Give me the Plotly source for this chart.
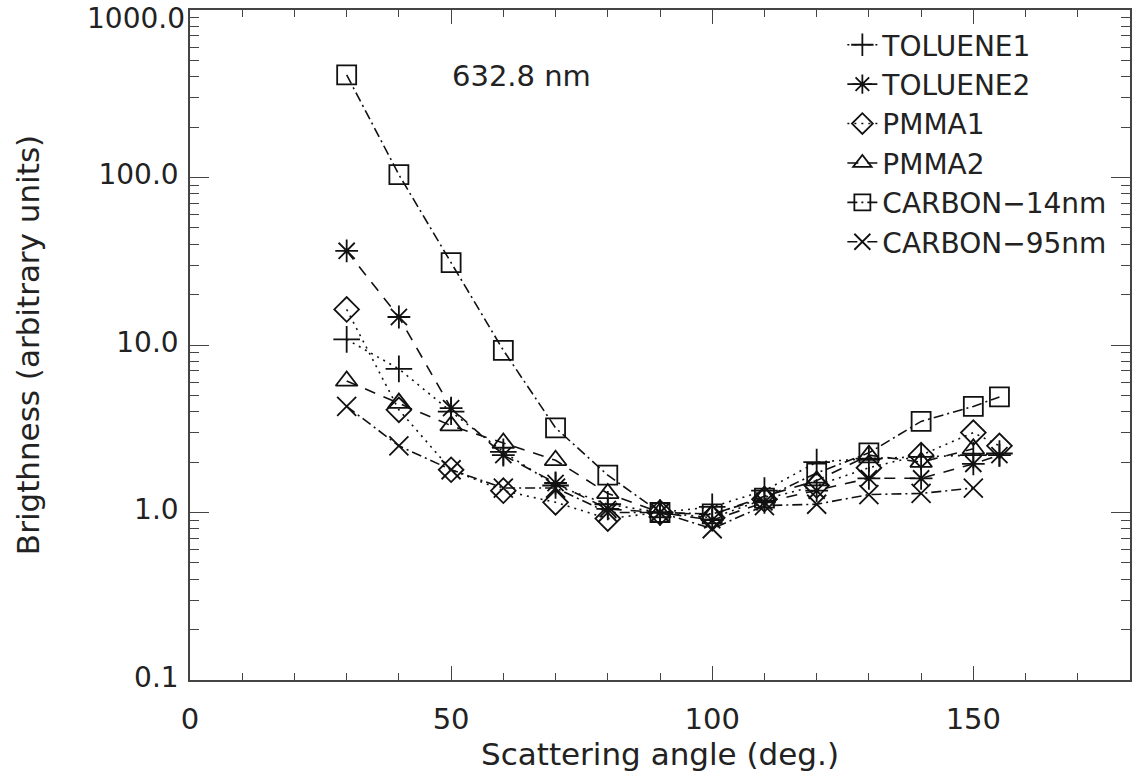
import plotly.graph_objects as go

angles = [30, 40, 50, 60, 70, 80, 90, 100, 110, 120, 130, 140, 150, 155]

toluene1 = [10.8, 7.2, 4.0, 2.3, 1.45, 1.12, 1.0, 1.08, 1.35, 2.0, 2.1, 2.15, 2.2, 2.25]
toluene2 = [36.5, 14.7, 4.2, 2.2, 1.5, 1.05, 1.0, 0.9, 1.15, 1.35, 1.6, 1.6, 1.95, 2.2]
pmma1 = [16.3, 4.1, 1.8, 1.35, 1.15, 0.92, 1.0, 0.93, 1.2, 1.45, 1.85, 2.2, 3.0, 2.5]
pmma2_angles = [30, 40, 50, 60, 70, 80, 90, 100, 110, 120, 130, 140, 150]
pmma2 = [6.1, 4.5, 3.3, 2.6, 2.05, 1.3, 1.0, 0.97, 1.25, 1.55, 2.2, 2.0, 2.4]
carbon14 = [410, 104, 31, 9.3, 3.2, 1.67, 1.0, 0.98, 1.22, 1.72, 2.27, 3.5, 4.3, 4.9]
carbon95_angles = [30, 40, 50, 60, 70, 80, 90, 100, 110, 120, 130, 140, 150]
carbon95 = [4.3, 2.5, 1.8, 1.4, 1.4, 1.0, 1.0, 0.8, 1.1, 1.12, 1.28, 1.3, 1.4]

y_tickvals = [0.1, 1, 10, 100, 1000]
y_ticktext = ["0.1", "1.0", "10.0", "100.0", ""]
y_top_tickvals = [1000]
y_top_ticktext = ["1000.0"]
x_tickvals = [0, 50, 100, 150]

DOT = "2px,5px"
DASH = "11px,9px"
DASHDOT = "10px,4px,2px,4px"

series = [
    ("TOLUENE1", angles, toluene1, DOT, "cross-thin-open"),
    ("TOLUENE2", angles, toluene2, DASH, "asterisk-open"),
    ("PMMA1", angles, pmma1, DOT, "diamond-open"),
    ("PMMA2", pmma2_angles, pmma2, DASH, "triangle-up-open"),
    ("CARBON\u221214nm", angles, carbon14, DASHDOT, "square-open"),
    ("CARBON\u221295nm", carbon95_angles, carbon95, DASHDOT, "x-thin-open"),
]

fig = go.Figure()
for name, xs, ys, dash, sym in series:
    fig.add_trace(go.Scatter(
        x=xs, y=ys, name=name, mode="lines+markers",
        line=dict(color="#111", width=1.6, dash=dash),
        marker=dict(symbol=sym, size=19, color="#111",
                    line=dict(color="#111", width=1.8)),
    ))

# invisible helper trace so the overlay axis (top "1000.0" label) is drawn
fig.add_trace(go.Scatter(
    x=angles, y=carbon14, yaxis="y2", mode="lines",
    line=dict(width=0, color="rgba(0,0,0,0)"), opacity=0,
    showlegend=False, hoverinfo="skip",
))

FONT = "DejaVu Sans"
TXT = "#222"
YRANGE = [-1, 3.0001]

fig.update_layout(
    width=1140, height=776,
    margin=dict(l=190, r=10, t=10, b=96, autoexpand=False),
    plot_bgcolor="white", paper_bgcolor="white",
    font=dict(family=FONT, size=28, color=TXT),
    showlegend=True,
    legend=dict(
        x=0.694, y=0.985, xanchor="left", yanchor="top",
        bgcolor="rgba(0,0,0,0)", borderwidth=0,
        font=dict(family=FONT, size=28, color=TXT),
        tracegroupgap=0, itemwidth=30,
    ),
    annotations=[dict(
        text="632.8 nm", xref="paper", yref="paper",
        x=0.353, y=0.901, xanchor="center", yanchor="middle",
        showarrow=False, font=dict(family=FONT, size=29, color=TXT),
    )],
    yaxis2=dict(
        type="log", range=YRANGE, overlaying="y", side="left",
        tickvals=y_top_tickvals, ticktext=y_top_ticktext,
        ticks="", showline=False, showgrid=False, zeroline=False,
        tickfont=dict(size=28, family=FONT, color=TXT),
        ticklabelstandoff=4, ticklabelshift=8, ticklabeloverflow="allow",
        automargin=False,
    ),
)

fig.update_xaxes(
    range=[0, 180], tickvals=x_tickvals, ticks="inside", ticklen=14,
    tickwidth=1.2, tickcolor="#444", showline=True, linecolor="#444",
    linewidth=1.5, mirror="ticks", showgrid=False, zeroline=False,
    tickfont=dict(size=29), ticklabelstandoff=12, automargin=False,
    minor=dict(ticks="inside", ticklen=7, dtick=10, tick0=0, tickcolor="#444", showgrid=False),
    title=dict(text="Scattering angle (deg.)", font=dict(size=31), standoff=6),
)
fig.update_layout(yaxis=dict(
    type="log", range=YRANGE, tickvals=y_tickvals, ticktext=y_ticktext,
    ticks="inside", ticklen=19, tickwidth=1.2, tickcolor="#444",
    showline=True, linecolor="#444", linewidth=1.5, mirror="ticks",
    showgrid=False, zeroline=False, tickfont=dict(size=28),
    ticklabelstandoff=4, ticklabelshift=-3, ticklabeloverflow="allow", automargin=False,
    minor=dict(ticks="inside", ticklen=9, dtick="D1", tickcolor="#444", showgrid=False),
    title=dict(text="Brigthness (arbitrary units)", font=dict(size=31), standoff=50),
))

fig.write_html("out.html", config={"displayModeBar": False},
               post_script="document.body.style.margin='0';")
